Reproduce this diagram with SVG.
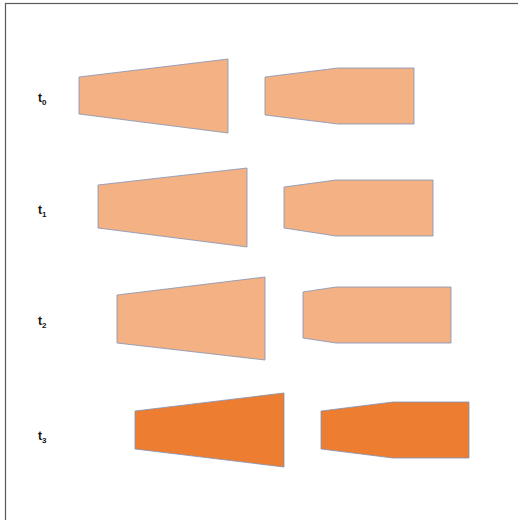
<svg xmlns="http://www.w3.org/2000/svg" width="518" height="520" viewBox="0 0 518 520">
<defs>
<style>
.frame{fill:none;stroke:#5a5a5a;stroke-width:1.2}
.light{fill:#F4B183;stroke:#7F93B8;stroke-width:0.8}
.dark{fill:#ED7D31;stroke:#7F93B8;stroke-width:0.8}
.lbl{font-family:"Liberation Sans",Arial,sans-serif;font-weight:bold;font-size:12px;fill:#111}
.sub{font-size:8px}
</style>
</defs>
<rect class="frame" x="5.5" y="3.5" width="530" height="530"/>
<g id="row0">
<g id="t0-label"><text class="lbl" x="38" y="102">t<tspan class="sub" dy="3">0</tspan></text></g>
<g id="t0-left"><polygon class="light" points="79,77 228,59 228,133 79,114"/></g>
<g id="t0-right"><polygon class="light" points="265,77 338,68 414,68 414,124 338,124 265,115"/></g>
</g>
<g id="row1">
<g id="t1-label"><text class="lbl" x="38" y="213.5">t<tspan class="sub" dy="3">1</tspan></text></g>
<g id="t1-left"><polygon class="light" points="98,185 247,168 247,247 98,228"/></g>
<g id="t1-right"><polygon class="light" points="284,187 336,180 433,180 433,236 336,236 284,228"/></g>
</g>
<g id="row2">
<g id="t2-label"><text class="lbl" x="38" y="325">t<tspan class="sub" dy="3">2</tspan></text></g>
<g id="t2-left"><polygon class="light" points="117,295 265,277 265,360 117,343"/></g>
<g id="t2-right"><polygon class="light" points="303,292 336,287 451,287 451,343 336,343 303,338"/></g>
</g>
<g id="row3">
<g id="t3-label"><text class="lbl" x="38" y="440">t<tspan class="sub" dy="3">3</tspan></text></g>
<g id="t3-left"><polygon class="dark" points="135,411 284,393 284,467 135,449"/></g>
<g id="t3-right"><polygon class="dark" points="321,411 393,402 469,402 469,458 393,458 321,449"/></g>
</g>
<g id="connectors"></g>
</svg>
